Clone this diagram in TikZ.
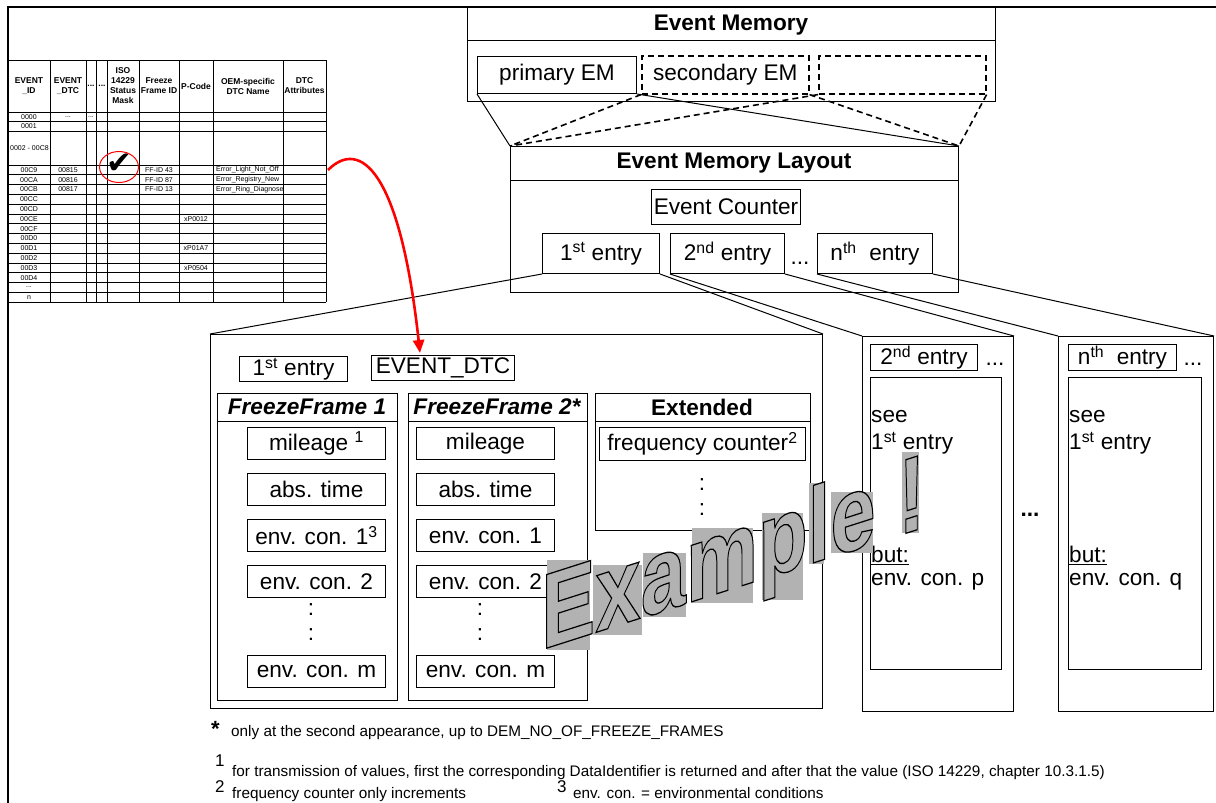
\documentclass[tikz,border=0pt]{standalone}
\usepackage{fontspec}
\setmainfont{Liberation Sans}
\newfontfamily\symfont{DejaVu Sans}
\newfontfamily\wmfont[FakeBold=1.2]{Liberation Sans Bold}
\usepackage{tikz}
\usetikzlibrary{positioning,arrows.meta}
\definecolor{cmark}{HTML}{FF0000}
\definecolor{cwater}{HTML}{B2B2B2}
\newcommand{\lblfont}{\fontsize{22.6}{26}\selectfont}
\newcommand{\tabhfont}{\fontsize{8.5}{10}\selectfont\bfseries}
\newcommand{\tabfont}{\fontsize{7}{8}\selectfont}
\newcommand{\notefont}{\fontsize{15.3}{18}\selectfont}

\begin{document}
\begin{tikzpicture}[x=1pt,y=-1pt,
  box/.style={draw,line width=1pt,inner sep=0pt,anchor=north west},
  dbox/.style={box,line width=1.6pt,dash pattern=on 6pt off 4pt},
  lbl/.style={font=\lblfont},
  ttl/.style={font=\lblfont\bfseries},
  fitem/.style={box,lbl,minimum width=138pt,minimum height=32pt},
  vdots/.style={font=\fontsize{22.6}{25.5}\selectfont,align=center,inner sep=0pt},
  link/.style={line width=1pt},
  dlink/.style={line width=1.6pt,dash pattern=on 6pt off 4pt},
  th/.style={font=\tabhfont,align=center,inner sep=0pt},
  td/.style={font=\tabfont,inner sep=0pt},
  note/.style={font=\notefont,anchor=base west,inner sep=0pt},
  wm/.style={font=\fontsize{107}{110}\selectfont\wmfont,inner sep=0pt,
    anchor=base west,xscale=0.76,yslant=0.243}]
\useasboundingbox (0,0) rectangle (1216,803);

% frame
\draw[line width=1.2pt] (8,803) -- (8,7) -- (1216,7);

% DTC table
\foreach \cx in {8,50,86,96.5,107,139,179,213,283,326}
  \draw[line width=1pt] (\cx,60) -- (\cx,302.2);
\foreach \ry in {60,112,121.5,131,165}
  \draw[line width=1pt] (8,\ry) -- (326,\ry);
\foreach \k in {1,...,14}
  \draw[line width=1pt] (8,{165+9.8*\k}) -- (326,{165+9.8*\k});
\node[th] (hId) at (29,86) {EVENT\\\_ID};
\node[th] (hDtc) at (68,86) {EVENT\\\_DTC};
\node[th] (hX1) at (91,86) {...};
\node[th] (hX2) at (102,86) {...};
\node[th] (hSt) at (123,86) {ISO\\14229\\Status\\Mask};
\node[th] (hFf) at (159,86) {Freeze\\Frame ID};
\node[th] (hPc) at (196,86) {P-Code};
\node[th] (hOem) at (248,86) {OEM-specific\\DTC Name};
\node[th] (hAt) at (304.5,86) {DTC\\Attributes};
\node[td] (r0) at (29,116.8) {0000};
\node[td] (r0b) at (68,116.8) {...};
\node[td] (r0c) at (91,116.8) {...};
\node[td] (r1) at (29,126.3) {0001};
\node[td,anchor=west] (r2) at (10,148) {0002 - 00C8};
\foreach \lab [count=\k from 0] in {00C9,00CA,00CB,00CC,00CD,00CE,00CF,00D0,00D1,00D2,00D3,00D4}
  \node[td] (rr\k) at (29,{169.9+9.8*\k}) {\lab};
\node[td] (rDots) at (29,287.5) {...};
\node[td] (rN) at (29,297.3) {n};
\node[td] (d1) at (68,169.9) {00815};
\node[td] (d2) at (68,179.7) {00816};
\node[td] (d3) at (68,189.5) {00817};
\node[td] (f1) at (159,169.9) {FF-ID 43};
\node[td] (f2) at (159,179.7) {FF-ID 87};
\node[td] (f3) at (159,189.5) {FF-ID 13};
\node[td,anchor=west] (o1) at (216,169.9) {Error\_Light\_Not\_Off};
\node[td,anchor=west] (o2) at (216,179.7) {Error\_Registry\_New};
\node[td,anchor=west] (o3) at (216,189.5) {Error\_Ring\_Diagnose};
\node[td] (p1) at (196,218.9) {xP0012};
\node[td] (p2c) at (196,248.3) {xP01A7};
\node[td] (p3) at (196,267.9) {xP0504};
\node[font=\symfont\fontsize{31}{31}\selectfont,inner sep=0pt] (chk) at (119,164) {✔};
\draw[cmark,line width=1pt] (119,167) ellipse [x radius=19.5, y radius=15.5];

% event memory
\node[box,minimum width=528pt,minimum height=94pt] (em) at (467,7) {};
\draw[link] ([yshift=-33pt]em.north west) -- ([yshift=-33pt]em.north east);
\node[ttl] (emT) at (731,25) {Event Memory};
\node[box,lbl,minimum width=159pt,minimum height=37pt] (prim) at (477,56) {primary EM};
\node[dbox,lbl,minimum width=167pt,minimum height=38pt] (sec) at (641,55) {secondary EM};
\node[dbox,minimum width=167pt,minimum height=38pt] (ter) at (818,55) {};

% event memory layout
\node[box,minimum width=448pt,minimum height=146pt] (lay) at (510,146) {};
\draw[link] ([yshift=-34pt]lay.north west) -- ([yshift=-34pt]lay.north east);
\node[ttl] (layT) at (734,163) {Event Memory Layout};
\node[box,lbl,minimum width=149pt,minimum height=35pt] (cnt) at (651,189) {Event Counter};
\node[box,lbl,minimum width=117pt,minimum height=40pt] (e1) at (542,233) {1\textsuperscript{st} entry};
\node[box,lbl,minimum width=114pt,minimum height=40pt] (e2) at (670,233) {2\textsuperscript{nd} entry};
\node[lbl] (eDots) at (800,263) {...};
\node[box,lbl,minimum width=115pt,minimum height=40pt] (en) at (817,233) {n\textsuperscript{th}\ \ entry};

\draw[link] (prim.south west) -- (lay.north west);
\draw[link] (prim.south east) -- (lay.north east);
\draw[dlink] (sec.south west) -- (lay.north west);
\draw[dlink] (sec.south east) -- (lay.north east);
\draw[dlink] (ter.south west) -- (lay.north west);
\draw[dlink] (ter.south east) -- (lay.north east);

% 1st entry in detail
\node[box,minimum width=612pt,minimum height=374pt] (big) at (210,334) {};
\node[box,lbl,minimum width=108pt,minimum height=25pt] (b1) at (239,356) {1\textsuperscript{st} entry};
\node[box,lbl,minimum width=143pt,minimum height=25pt] (dtc) at (371,355) {EVENT\_DTC};

\node[box,minimum width=180pt,minimum height=307pt] (ff1) at (217,393) {};
\draw[link] ([yshift=-28pt]ff1.north west) -- ([yshift=-28pt]ff1.north east);
\node[ttl,font=\lblfont\bfseries\itshape] (ff1T) at (307,407) {FreezeFrame 1};
\node[fitem] (a1) at (247,427) {mileage \textsuperscript{1}};
\node[fitem] (a2) at (247,473) {abs. time};
\node[fitem] (a3) at (247,519) {env. con. 1\textsuperscript{3}};
\node[fitem] (a4) at (247,565) {env. con. 2};
\node[vdots] (a5) at (311,622) {:\\:};
\node[fitem] (a7) at (247,655) {env. con. m};

\node[box,minimum width=179pt,minimum height=307pt] (ff2) at (408,393) {};
\draw[link] ([yshift=-28pt]ff2.north west) -- ([yshift=-28pt]ff2.north east);
\node[ttl,font=\lblfont\bfseries\itshape] (ff2T) at (497,407) {FreezeFrame 2*};
\node[fitem] (c1) at (416,427) {mileage};
\node[fitem] (c2) at (416,473) {abs. time};
\node[fitem] (c3) at (416,519) {env. con. 1};
\node[fitem] (c4) at (416,565) {env. con. 2};
\node[vdots] (c5) at (480,622) {:\\:};
\node[fitem] (c7) at (416,655) {env. con. m};

\node[box,minimum width=215pt,minimum height=137pt] (ext) at (595,393) {};
\draw[link] ([yshift=-28pt]ext.north west) -- ([yshift=-28pt]ext.north east);
\node[ttl] (extT) at (702,407) {Extended};
\node[box,lbl,minimum width=206pt,minimum height=33pt] (frq) at (599,427) {frequency counter\textsuperscript{2}};
\node[vdots] (x1) at (702,497) {:\\:};

% 2nd and nth entry
\node[box,minimum width=151pt,minimum height=375pt] (p2) at (862,336) {};
\node[box,lbl,minimum width=107pt,minimum height=26pt] (p2L) at (870,344) {2\textsuperscript{nd} entry};
\node[lbl] (p2D) at (995,364) {...};
\node[box,minimum width=131pt,minimum height=292pt] (p2C) at (870,377) {};
\node[lbl,anchor=west,inner sep=0pt] (p2a) at (871,417) {see};
\node[lbl,anchor=west,inner sep=0pt] (p2b) at (871,443) {1\textsuperscript{st} entry};
\node[lbl,anchor=west,inner sep=0pt] (p2c) at (871,555) {\underline{but:}};
\node[lbl,anchor=west,inner sep=0pt] (p2d) at (871,582) {env. con. p};

\node[ttl] (midDots) at (1030,515) {...};

\node[box,minimum width=155pt,minimum height=375pt] (pn) at (1058,336) {};
\node[box,lbl,minimum width=108pt,minimum height=26pt] (pnL) at (1068,344) {n\textsuperscript{th}\ \ entry};
\node[lbl] (pnD) at (1193,364) {...};
\node[box,minimum width=133pt,minimum height=292pt] (pnC) at (1068,377) {};
\node[lbl,anchor=west,inner sep=0pt] (pna) at (1069,417) {see};
\node[lbl,anchor=west,inner sep=0pt] (pnb) at (1069,443) {1\textsuperscript{st} entry};
\node[lbl,anchor=west,inner sep=0pt] (pnc) at (1069,555) {\underline{but:}};
\node[lbl,anchor=west,inner sep=0pt] (pnd) at (1069,582) {env. con. q};

\draw[link] (e1.south west) -- (big.north west);
\draw[link] (e1.south east) -- (big.north east);
\draw[link] (e2.south west) -- (p2.north west);
\draw[link] (e2.south east) -- (p2.north east);
\draw[link] (en.south west) -- (pn.north west);
\draw[link] (en.south east) -- (pn.north east);

% table row to EVENT_DTC
\coordinate (arrS) at (328,170);
\draw[cmark,line width=2.6pt,-{Triangle[length=13pt,width=11pt]}]
  (arrS) .. controls (360,138) and (400,170) .. ([xshift=49pt,yshift=2pt]dtc.north west);

% footnotes
\node[note,font=\fontsize{22}{22}\selectfont\bfseries] (nS) at (211,736) {*};
\node[note] (nS1) at (231,736) {only at the second appearance, up to DEM\_NO\_OF\_FREEZE\_FRAMES};
\node[note,font=\fontsize{17}{17}\selectfont] (n1) at (215,766) {1};
\node[note] (n1t) at (232,776) {for transmission of values, first the corresponding DataIdentifier is returned and after that the value (ISO 14229, chapter 10.3.1.5)};
\node[note,font=\fontsize{17}{17}\selectfont] (n2) at (215,792) {2};
\node[note] (n2t) at (232,798) {frequency counter only increments};
\node[note,font=\fontsize{17}{17}\selectfont] (n3) at (557,792) {3};
\node[note] (n3t) at (573,798) {env. con. = environmental conditions};

% watermark
\fill[cwater] (547,560) rectangle (590,650);
\fill[cwater] (593,565) rectangle (642,635);
\fill[cwater] (643,553) rectangle (686,617);
\fill[cwater] (692,528) rectangle (753,603);
\fill[cwater] (762,513) rectangle (803,600);
\fill[cwater] (809,483) rectangle (824,564);
\fill[cwater] (831,492) rectangle (873,553);
\fill[cwater] (902,452) rectangle (919,533);
\node[wm,text=cwater] (wmark) at (541,650) {\special{pdf:literal direct 0 G}Example !};
\end{tikzpicture}
\end{document}
